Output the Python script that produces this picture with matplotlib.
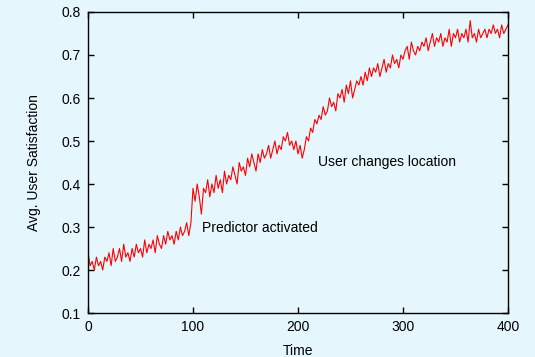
import numpy as np
import matplotlib.pyplot as plt

plt.rcParams['font.family'] = ['Liberation Sans', 'DejaVu Sans']

# time steps (every 2 units) and average satisfaction
time = np.arange(0, 401, 2)
satisfaction = [
    0.24, 0.21, 0.22, 0.20, 0.23, 0.21, 0.22, 0.20, 0.23, 0.22,
    0.24, 0.21, 0.25, 0.22, 0.23, 0.25, 0.22, 0.26, 0.23, 0.24,
    0.22, 0.25, 0.23, 0.26, 0.24, 0.25, 0.23, 0.27, 0.24, 0.26,
    0.25, 0.27, 0.24, 0.28, 0.26, 0.25, 0.28, 0.26, 0.29, 0.27,
    0.28, 0.26, 0.29, 0.27, 0.30, 0.28, 0.29, 0.31, 0.28, 0.31,
    0.39, 0.36, 0.40, 0.37, 0.33, 0.39, 0.38, 0.41, 0.37, 0.40,
    0.38, 0.42, 0.39, 0.41, 0.38, 0.43, 0.40, 0.42, 0.41, 0.44,
    0.42, 0.40, 0.45, 0.43, 0.44, 0.42, 0.46, 0.44, 0.47, 0.45,
    0.43, 0.47, 0.45, 0.48, 0.46, 0.47, 0.49, 0.46, 0.48, 0.50,
    0.47, 0.49, 0.48, 0.51, 0.50, 0.52, 0.49, 0.50, 0.48, 0.50,
    0.47, 0.49, 0.46, 0.48, 0.51, 0.50, 0.53, 0.52, 0.55, 0.54,
    0.56, 0.55, 0.58, 0.56, 0.57, 0.60, 0.58, 0.59, 0.57, 0.61,
    0.60, 0.62, 0.59, 0.63, 0.61, 0.64, 0.60, 0.62, 0.64, 0.63,
    0.65, 0.63, 0.66, 0.64, 0.67, 0.65, 0.67, 0.66, 0.68, 0.65,
    0.67, 0.69, 0.66, 0.68, 0.67, 0.70, 0.68, 0.69, 0.67, 0.70,
    0.69, 0.71, 0.72, 0.69, 0.73, 0.71, 0.70, 0.72, 0.71, 0.73,
    0.72, 0.74, 0.71, 0.73, 0.75, 0.72, 0.74, 0.73, 0.75, 0.72,
    0.74, 0.73, 0.76, 0.72, 0.75, 0.74, 0.76, 0.73, 0.75, 0.74,
    0.76, 0.73, 0.78, 0.74, 0.75, 0.73, 0.76, 0.74, 0.75, 0.76,
    0.74, 0.76, 0.75, 0.77, 0.75, 0.76, 0.74, 0.77, 0.75, 0.76,
    0.77,
]

bg = '#e5f6fd'
fs = 10
fig = plt.figure(figsize=(5.35, 3.57), dpi=100, facecolor=bg)
ax = fig.add_axes([0.1645, 0.1232, 0.785, 0.8432], facecolor=bg)

ax.plot(time, satisfaction, color='red', lw=0.8)

ax.set_xlim(0, 400)
ax.set_ylim(0.1, 0.8)
ax.set_xticks([0, 100, 200, 300, 400])
ax.set_yticks([0.1, 0.2, 0.3, 0.4, 0.5, 0.6, 0.7, 0.8])
ax.tick_params(direction='in', length=4, width=1, top=True, right=True,
               labelsize=fs, pad=5)
for s in ax.spines.values():
    s.set_linewidth(1)

ax.set_xlabel("Time", fontsize=fs, labelpad=7)
ax.set_ylabel("Avg. User Satisfaction", fontsize=fs, labelpad=15)

# 주석
ax.text(109, 0.298, "Predictor activated", fontsize=fs, va='center')
ax.text(219, 0.451, "User changes location", fontsize=fs, va='center')

fig.savefig("out.png", dpi=100, facecolor=bg)
